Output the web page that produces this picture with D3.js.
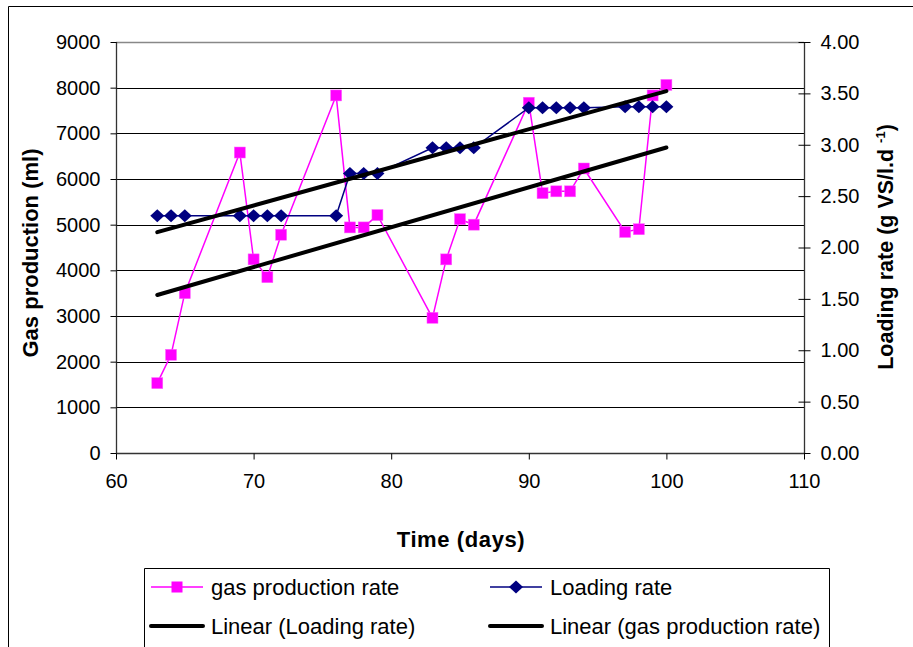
<!DOCTYPE html>
<html><head><meta charset="utf-8">
<script src="https://cdn.jsdelivr.net/npm/d3@7/dist/d3.min.js"></script>
<style>
html,body{margin:0;padding:0;background:#fff;}
svg text{font-family:"Liberation Sans",Arial,sans-serif;fill:#000;}
</style></head>
<body>
<svg id="chart" width="913" height="647"></svg>
<script>
// ---- data ----
const days = [63,64,65,69,70,71,72,76,77,78,79,83,84,85,86,90,91,92,93,94,97,98,99,100];
const gasProduction = [1530,2150,3500,6580,4240,3850,4780,7830,4940,4940,5210,2960,4240,5120,5000,7670,5690,5730,5730,6230,4840,4900,7830,8060];
const loadingRate = [2.31,2.31,2.31,2.31,2.31,2.31,2.31,2.31,2.72,2.72,2.72,2.97,2.97,2.97,2.97,3.36,3.36,3.36,3.36,3.36,3.37,3.37,3.37,3.37];
const xTicks = [60,70,80,90,100,110];
const leftTicks = [0,1000,2000,3000,4000,5000,6000,7000,8000,9000];
const rightTicks = [0,0.5,1,1.5,2,2.5,3,3.5,4];
const legendLabels = ["gas production rate","Loading rate","Linear (Loading rate)","Linear (gas production rate)"];

const svg = d3.select("#chart");
const L = 116, R = 804, T = 42, B = 453;
const x = d3.scaleLinear().domain([60,110]).range([L,R]);
const yL = d3.scaleLinear().domain([0,9000]).range([B,T]);
const yR = d3.scaleLinear().domain([0,4]).range([B,T]);

// outer border
svg.append("path").attr("d","M8.5,660 L8.5,6.5 L920,6.5").attr("fill","none").attr("stroke","#000").attr("stroke-width",1);

// gridlines
svg.append("g").selectAll("line").data(leftTicks.filter(d=>d>0 && d<9000)).join("line")
  .attr("x1",L).attr("x2",R).attr("y1",d=>Math.round(yL(d))+0.5).attr("y2",d=>Math.round(yL(d))+0.5)
  .attr("stroke","#000").attr("stroke-width",1.2);
// top border gray
svg.append("line").attr("x1",L).attr("x2",R).attr("y1",T+0.5).attr("y2",T+0.5).attr("stroke","#888").attr("stroke-width",1.5);

// axes
const fs = 20;
const gl = svg.append("g").attr("transform",`translate(${L+0.5},0)`)
  .call(d3.axisLeft(yL).tickValues(leftTicks).tickSize(6).tickPadding(10).tickFormat(d3.format("d")));
const gr = svg.append("g").attr("transform",`translate(${R+0.5},0)`)
  .call(d3.axisRight(yR).tickValues(rightTicks).tickSize(6).tickPadding(10).tickFormat(d3.format(".2f")));
gr.selectAll(".tick line").attr("x1",-6);
const gx = svg.append("g").attr("transform",`translate(0,${B+0.5})`)
  .call(d3.axisBottom(x).tickValues(xTicks).tickSize(6).tickPadding(14).tickFormat(d3.format("d")));
[gl,gr,gx].forEach(g=>{
  g.selectAll(".domain").attr("stroke","#333").attr("stroke-width",1.3);
  g.selectAll(".tick line").attr("stroke","#000");
  g.selectAll("text").attr("font-size",fs).attr("font-family","'Liberation Sans',Arial,sans-serif").attr("fill","#000");
});
gl.select(".domain").attr("d",`M0,${T}V${B}`);
gr.select(".domain").attr("d",`M0,${T}V${B}`);
gx.select(".domain").attr("d",`M${L},0H${R}`);

// series lines
const gasData = days.map((d,i)=>({x:d,y:gasProduction[i]}));
const loadData = days.map((d,i)=>({x:d,y:loadingRate[i]}));
svg.append("path").datum(gasData).attr("fill","none").attr("stroke","#FF00FF").attr("stroke-width",1.5)
  .attr("d",d3.line().x(d=>x(d.x)).y(d=>yL(d.y)));
svg.append("g").selectAll("rect").data(gasData).join("rect")
  .attr("x",d=>x(d.x)-5.5).attr("y",d=>yL(d.y)-5.5).attr("width",11).attr("height",11)
  .attr("fill","#FF00FF").attr("stroke","#FF66FF").attr("stroke-width",0.5);

svg.append("path").datum(loadData).attr("fill","none").attr("stroke","#000080").attr("stroke-width",1.5)
  .attr("d",d3.line().x(d=>x(d.x)).y(d=>yR(d.y)));
const diamond = "M0,-6.5L7,0L0,6.5L-7,0Z";
svg.append("g").selectAll("path").data(loadData).join("path")
  .attr("transform",d=>`translate(${x(d.x)},${yR(d.y)})`).attr("d",diamond).attr("fill","#000080");

// linear trendlines (least squares)
function fit(xs,ys){
  const mx=d3.mean(xs), my=d3.mean(ys);
  const b=d3.sum(xs,(v,i)=>(v-mx)*(ys[i]-my))/d3.sum(xs,v=>(v-mx)*(v-mx));
  return v=>my+b*(v-mx);
}
const x0=d3.min(days), x1=d3.max(days);
const fL=fit(days,loadingRate), fG=fit(days,gasProduction);
svg.append("line").attr("x1",x(x0)).attr("x2",x(x1)).attr("y1",yR(fL(x0))).attr("y2",yR(fL(x1)))
  .attr("stroke","#000").attr("stroke-width",4).attr("stroke-linecap","round");
svg.append("line").attr("x1",x(x0)).attr("x2",x(x1)).attr("y1",yL(fG(x0))).attr("y2",yL(fG(x1)))
  .attr("stroke","#000").attr("stroke-width",4).attr("stroke-linecap","round");

// axis titles
svg.append("text").attr("transform","translate(38,253) rotate(-90)").attr("text-anchor","middle")
  .attr("font-size",22).attr("font-weight","bold").text("Gas production (ml)");
const rt = svg.append("text").attr("transform","translate(893,247) rotate(-90)").attr("text-anchor","middle")
  .attr("font-size",21.5).attr("font-weight","bold");
rt.append("tspan").text("Loading rate (g VS/l.d ");
rt.append("tspan").attr("dy",-8).attr("font-size",13).text("-1");
rt.append("tspan").attr("dy",8).text(")");
svg.append("text").attr("x",461).attr("y",547).attr("text-anchor","middle")
  .attr("font-size",22).attr("font-weight","bold").attr("letter-spacing",0.6).text("Time (days)");

// legend
svg.append("path").attr("d","M144.5,660V568.5H829.5V660").attr("fill","none").attr("stroke","#000").attr("stroke-width",1);
const lg = svg.append("g");
const items = [
  {lx:151,tx:211,y:587,type:"gas"},
  {lx:490,tx:550,y:587,type:"load"},
  {lx:151,tx:211,y:626,type:"trend"},
  {lx:490,tx:550,y:626,type:"trend"}
];
items.forEach((it,i)=>{
  const col = it.type==="gas"?"#FF00FF":it.type==="load"?"#000080":"#000";
  lg.append("line").attr("x1",it.lx).attr("x2",it.lx+52).attr("y1",it.y).attr("y2",it.y)
    .attr("stroke",col).attr("stroke-width",it.type==="trend"?4:1.5).attr("stroke-linecap",it.type==="trend"?"round":"butt");
  if(it.type==="gas") lg.append("rect").attr("x",it.lx+26-5.5).attr("y",it.y-5.5).attr("width",11).attr("height",11).attr("fill","#FF00FF");
  if(it.type==="load") lg.append("path").attr("transform",`translate(${it.lx+26},${it.y})`).attr("d",diamond).attr("fill","#000080");
  lg.append("text").attr("x",it.tx).attr("y",it.y).attr("dy","0.35em").attr("font-size",22).text(legendLabels[i]);
});
</script>
</body></html>
